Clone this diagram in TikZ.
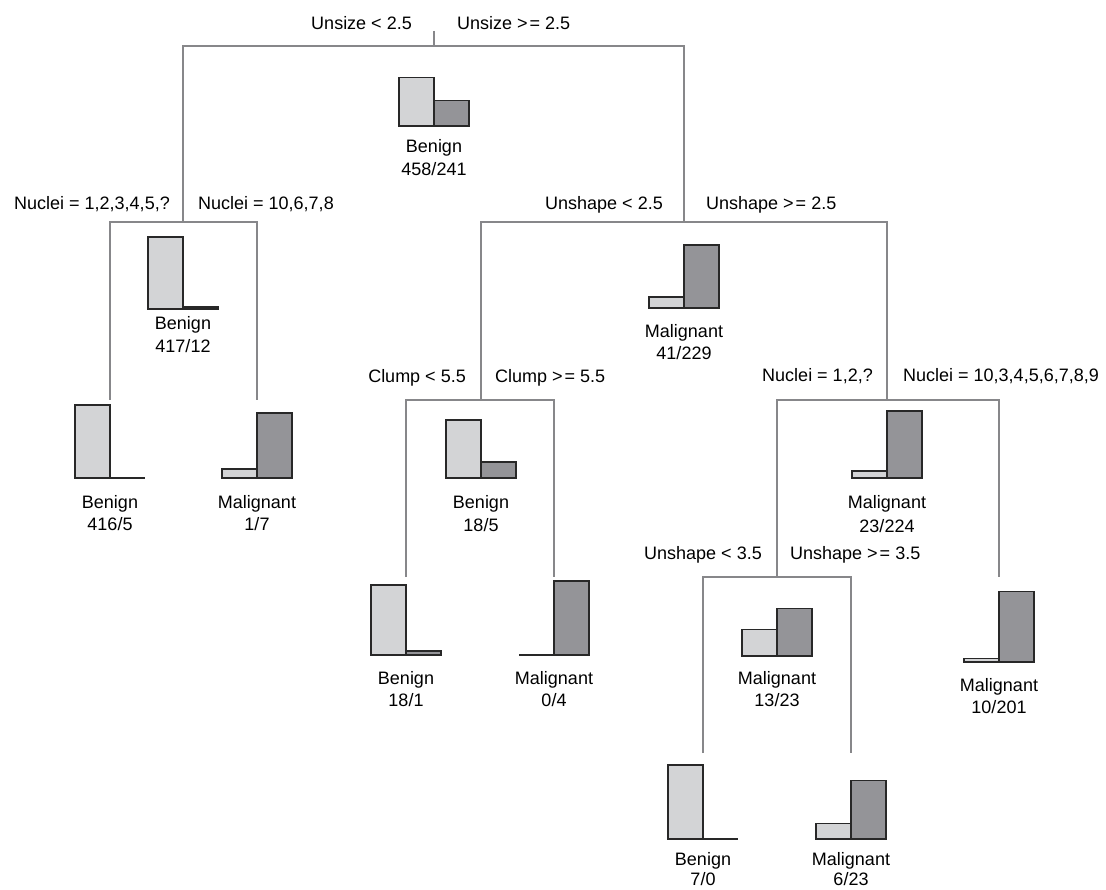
\documentclass[tikz,border=0pt]{standalone}
\usepackage{fontspec}
\setmainfont{Liberation Sans}
\definecolor{lightfill}{RGB}{211,212,214}
\definecolor{darkfill}{RGB}{148,148,152}
\definecolor{edgegray}{RGB}{135,135,138}
\definecolor{outline}{RGB}{40,40,40}
\tikzset{
  edge/.style={draw=edgegray, line width=1.3pt},
  lightbar/.style={draw=outline, fill=lightfill, line width=1.5pt},
  darkbar/.style={draw=outline, fill=darkfill, line width=1.5pt},
  barline/.style={draw=outline, line width=1.5pt},
  txt/.style={font=\fontsize{18}{22}\selectfont, inner sep=0pt, anchor=base},
  condl/.style={txt, anchor=base east},
  condr/.style={txt, anchor=base west},
}
% \hist{name}{x}{bottom}{benign}{malignant}
\newcommand\hist[5]{%
  \pgfmathsetmacro\hA{74*(#4/(#4+#5))}%
  \pgfmathsetmacro\hB{74*(#5/(#4+#5))}%
  \coordinate (#1-base) at (#2,#3);
  \ifdim\hA pt>1.2pt
    \draw[lightbar] (#2-35,#3) rectangle (#2,#3-\hA);
  \else
    \draw[barline] (#2-35,#3) -- (#2,#3);
  \fi
  \ifdim\hB pt>1.2pt
    \draw[darkbar] (#2,#3) rectangle (#2+35,#3-\hB);
  \else
    \draw[barline] (#2,#3) -- (#2+35,#3);
  \fi
}
% \info{name}{x}{y1}{y2}{class}{counts}
\newcommand\info[6]{%
  \node[txt] (#1-c) at (#2,#3+6.5) {#5};
  \node[txt] (#1-n) at (#2,#4+6.5) {#6};
}
\begin{document}
\begin{tikzpicture}[x=1pt,y=-1pt]
\fill[white] (0,0) rectangle (1106,890);
\useasboundingbox (0,0) rectangle (1106,890);

% split points
\coordinate (r-top) at (434,31);
\coordinate (r) at (434,46);
\coordinate (n2) at (183,222);
\coordinate (n5) at (684,222);
\coordinate (l1) at (110,400);
\coordinate (l2) at (257,400);
\coordinate (n6) at (481,400);
\coordinate (n9) at (887,400);
\coordinate (l3) at (406,577);
\coordinate (l4) at (554,577);
\coordinate (n10) at (777,577);
\coordinate (l5) at (999,577);
\coordinate (l6) at (703,753);
\coordinate (l7) at (851,753);

% connectors
\draw[edge] (r-top) -- (r);
\draw[edge] (n2) |- (r) -| (n5);
\draw[edge] (l1) |- (n2) -| (l2);
\draw[edge] (n6) |- (n5) -| (n9);
\draw[edge] (l3) |- (n6) -| (l4);
\draw[edge] (n10) |- (n9) -| (l5);
\draw[edge] (l6) |- (n10) -| (l7);

% split conditions
\node[condl] (c1l) at (412,29.5) {Unsize < 2.5};
\node[condr] (c1r) at (457,29.5) {Unsize >\kern2pt= 2.5};
\node[condl] (c2l) at (170,209.5) {Nuclei = 1,2,3,4,5,?};
\node[condr] (c2r) at (198,209.5) {Nuclei = 10,6,7,8};
\node[condl] (c5l) at (663,209.5) {Unshape < 2.5};
\node[condr] (c5r) at (706,209.5) {Unshape >\kern2pt= 2.5};
\node[condl] (c6l) at (466,382.5) {Clump < 5.5};
\node[condr] (c6r) at (495,382.5) {Clump >\kern2pt= 5.5};
\node[condl] (c9l) at (873,381.5) {Nuclei = 1,2,?};
\node[condr] (c9r) at (903,381.5) {Nuclei = 10,3,4,5,6,7,8,9};
\node[condl] (c10l) at (762,559.5) {Unshape < 3.5};
\node[condr] (c10r) at (790,559.5) {Unshape >\kern2pt= 3.5};

% histograms
\hist{root}{434}{126}{458}{241}
\hist{h2}{183}{309}{417}{12}
\hist{h11}{110}{478}{416}{5}
\hist{h12}{257}{478}{1}{7}
\hist{h5}{684}{308}{41}{229}
\hist{h6}{481}{478}{18}{5}
\hist{h13}{406}{655}{18}{1}
\hist{h14}{554}{655}{0}{4}
\hist{h9}{887}{478}{23}{224}
\hist{h10}{777}{656}{13}{23}
\hist{h15}{999}{662}{10}{201}
\hist{h16}{703}{839}{7}{0}
\hist{h17}{851}{839}{6}{23}

% labels
\info{root}{434}{146}{169}{Benign}{458/241}
\info{h2}{183}{323}{346}{Benign}{417/12}
\info{h11}{110}{502}{524}{Benign}{416/5}
\info{h12}{257}{502}{524}{Malignant}{1/7}
\info{h5}{684}{331}{353}{Malignant}{41/229}
\info{h6}{481}{502}{525}{Benign}{18/5}
\info{h13}{406}{678}{700}{Benign}{18/1}
\info{h14}{554}{678}{700}{Malignant}{0/4}
\info{h9}{887}{502}{526}{Malignant}{23/224}
\info{h10}{777}{678}{700}{Malignant}{13/23}
\info{h15}{999}{685}{707}{Malignant}{10/201}
\info{h16}{703}{859}{879}{Benign}{7/0}
\info{h17}{851}{859}{879}{Malignant}{6/23}
\end{tikzpicture}
\end{document}
